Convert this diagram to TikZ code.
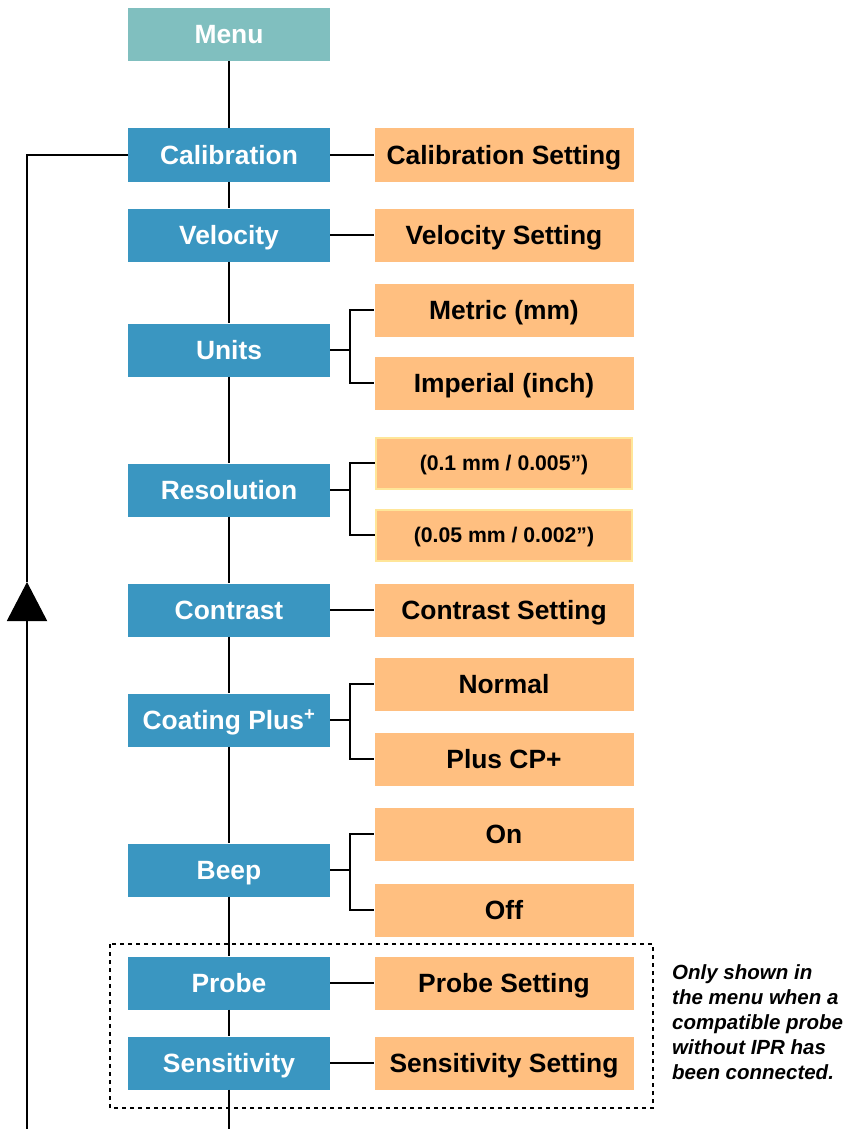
\documentclass[tikz,border=0pt]{standalone}
\usepackage{fontspec}
\setmainfont{Liberation Sans}
\usetikzlibrary{arrows.meta}
\definecolor{menuteal}{HTML}{80BFBF}
\definecolor{itemblue}{HTML}{3A96C1}
\definecolor{setorange}{HTML}{FFBF80}
\definecolor{resyellow}{HTML}{FFE699}
\newcommand{\boxfont}{\fontsize{26.4}{30}\selectfont\bfseries}
\tikzset{
  menuitem/.style={fill=itemblue, text=white, minimum width=202pt, minimum height=53pt, inner sep=0pt, text height=18.9pt, text depth=0pt, font=\boxfont},
  topitem/.style={menuitem, fill=menuteal},
  setting/.style={menuitem, fill=setorange, text=black, minimum width=259pt},
  smallsetting/.style={setting, draw=resyellow, line width=2pt, minimum width=256pt, minimum height=51pt, text height=15.2pt, font=\fontsize{21.2}{25}\selectfont\bfseries},
  link/.style={line width=2pt},
  fork/.style={to path={(\tikztostart) -- ++(20,0) |- (\tikztotarget)}}
}

\begin{document}
\begin{tikzpicture}[x=1pt, y=-1pt]
 \useasboundingbox (0,0) rectangle (862,1129);
 % menu column
 \node[topitem]  (menu)     at (229,34.5) {Menu};
 \node[menuitem] (calib)    at (229,155)  {Calibration};
 \node[menuitem] (velocity) at (229,235)  {Velocity};
 \node[menuitem] (units)    at (229,350)  {Units};
 \node[menuitem] (resol)    at (229,490)  {Resolution};
 \node[menuitem] (contrast) at (229,610)  {Contrast};
 \node[menuitem] (coating)  at (229,720)  {Coating Plus\textsuperscript{+}};
 \node[menuitem] (beep)     at (229,870)  {Beep};
 \node[menuitem] (probe)    at (229,983)  {Probe};
 \node[menuitem] (sens)     at (229,1063) {Sensitivity};
 % settings column
 \node[setting] (calibset)    at (504,155)  {Calibration Setting};
 \node[setting] (velocityset) at (504,235)  {Velocity Setting};
 \node[setting] (metric)      at (504,310)  {Metric (mm)};
 \node[setting] (imperial)    at (504,383)  {Imperial (inch)};
 \node[smallsetting] (resfine)   at (504,463) {(0.1 mm / 0.005”)};
 \node[smallsetting] (rescoarse) at (504,535) {(0.05 mm / 0.002”)};
 \node[setting] (contrastset) at (504,610)  {Contrast Setting};
 \node[setting] (normal)      at (504,684)  {Normal};
 \node[setting] (plus)        at (504,759)  {Plus CP+};
 \node[setting] (beepon)      at (504,834)  {On};
 \node[setting] (beepoff)     at (504,910)  {Off};
 \node[setting] (probeset)    at (504,983)  {Probe Setting};
 \node[setting] (sensset)     at (504,1063) {Sensitivity Setting};

 \coordinate (mainend)  at (229,1129);
 \coordinate (loopend)  at (27,1129);
 \coordinate (looptip)  at (27,582);

 % main line
 \path[link]
   (menu)     edge (calib)
   (calib)    edge (velocity)
   (velocity) edge (units)
   (units)    edge (resol)
   (resol)    edge (contrast)
   (contrast) edge (coating)
   (coating)  edge (beep)
   (beep)     edge (probe)
   (probe)    edge (sens)
   (sens)     edge (mainend);
 % settings
 \path[link]
   (calib)    edge (calibset)
   (velocity) edge (velocityset)
   (contrast) edge (contrastset)
   (probe)    edge (probeset)
   (sens)     edge (sensset)
   (units.east)   edge[fork] (metric.west)
                  edge[fork] (imperial.west)
   (resol.east)   edge[fork] (resfine.west)
                  edge[fork] (rescoarse.west)
   (coating.east) edge[fork] (normal.west)
                  edge[fork] (plus.west)
   (beep.east)    edge[fork] (beepon.west)
                  edge[fork] (beepoff.west);
 % loop back
 \draw[link] (calib.west) -| (looptip);
 \draw[link, -{Triangle[length=39pt,width=40pt]}] (loopend) -- (looptip);

 % optional items
 \draw[line width=2pt, dash pattern=on 4pt off 4pt] (110,944) rectangle (653,1108);
 \node[anchor=north west, align=left, inner sep=0pt, font=\fontsize{20.5}{25}\selectfont\bfseries\itshape] (note) at (672,964)
   {Only shown in\\the menu when a\\compatible probe\\without IPR has\\been connected.};
\end{tikzpicture}
\end{document}
